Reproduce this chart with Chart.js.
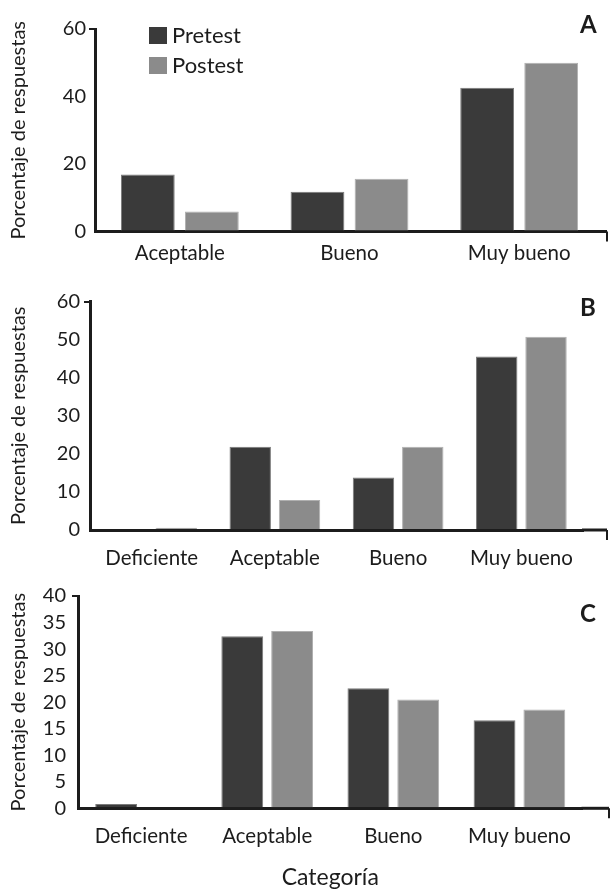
<!DOCTYPE html>
<html>
<head>
<meta charset="utf-8">
<script src="https://cdn.jsdelivr.net/npm/chart.js@4"></script>
<style>
  body{margin:0;background:#fff;}
  #wrap{position:relative;width:610px;height:889px;}
  canvas{position:absolute;left:0;}
</style>
</head>
<body>
<div id="wrap">
  <canvas id="panelA" width="610" height="285" style="top:0px"></canvas>
  <canvas id="panelB" width="610" height="290" style="top:285px"></canvas>
  <canvas id="panelC" width="610" height="314" style="top:575px"></canvas>
</div>
<script>
// data
const categoriesA = ['Aceptable', 'Bueno', 'Muy bueno'];
const pretestA = [16.9, 11.8, 42.6];
const postestA = [5.9, 15.6, 50.0];

const categoriesBC = ['Deficiente', 'Aceptable', 'Bueno', 'Muy bueno'];
const pretestB = [0, 21.9, 13.8, 45.6];
const postestB = [0.6, 7.9, 21.9, 50.8];

const pretestC = [0.8, 32.4, 22.6, 16.6];
const postestC = [0, 33.4, 20.5, 18.6];

const seriesNames = ['Pretest', 'Postest'];
const yTicksA = {max: 60, step: 20};
const yTicksB = {max: 60, step: 10};
const yTicksC = {max: 40, step: 5};

const darkGray = '#3a3a3a';
const lightGray = '#8b8b8b';
const ink = '#1c1c1c';
const fontName = 'Lato';

Chart.defaults.font.family = fontName;
Chart.defaults.color = ink;

// legend, panel letter and the x axis line that runs past the last bar
const extras = {
  id: 'extras',
  afterDraw(chart, args, opts) {
    const ctx = chart.ctx;
    const area = chart.chartArea;
    ctx.save();
    ctx.strokeStyle = ink;
    ctx.lineWidth = 3;
    ctx.beginPath();
    ctx.moveTo(area.right - 1, area.bottom);
    ctx.lineTo(opts.axisEnd, area.bottom);
    ctx.stroke();
    ctx.lineWidth = 2;
    ctx.beginPath();
    ctx.moveTo(opts.axisEnd, area.bottom);
    ctx.lineTo(opts.axisEnd, area.bottom + 10);
    ctx.stroke();

    ctx.fillStyle = ink;
    ctx.font = 'bold 24px ' + fontName;
    ctx.textBaseline = 'middle';
    ctx.textAlign = 'left';
    ctx.fillText(opts.letter, 580, opts.letterY);

    if (opts.legend) {
      chart.data.datasets.forEach((ds, i) => {
        const y = 27 + i * 30;
        ctx.fillStyle = ds.backgroundColor;
        ctx.fillRect(149, y, 18, 17);
        ctx.fillStyle = ink;
        ctx.font = '22px ' + fontName;
        ctx.fillText(ds.label, 172, y + 9);
      });
    }
    ctx.restore();
  }
};

function makePanel(id, labels, pre, post, yTicks, box, more) {
  const canvas = document.getElementById(id);
  return new Chart(canvas.getContext('2d'), {
    type: 'bar',
    data: {
      labels: labels,
      datasets: [
        {label: seriesNames[0], data: pre, backgroundColor: darkGray, borderColor: '#7a7a7a', borderWidth: 1},
        {label: seriesNames[1], data: post, backgroundColor: lightGray, borderColor: '#b0b0b0', borderWidth: 1}
      ]
    },
    plugins: [extras],
    options: {
      responsive: false,
      animation: false,
      categoryPercentage: box.cat,
      barPercentage: 0.84,
      layout: {padding: {top: box.top, right: 610 - box.right, left: 0, bottom: 0}},
      plugins: {
        legend: {display: false},
        tooltip: {enabled: false},
        extras: more
      },
      scales: {
        x: {
          afterFit(scale) { scale.height = canvas.height - box.bottom; },
          grid: {display: false, drawTicks: false},
          border: {display: true, color: ink, width: 3},
          ticks: {font: {size: 20.5}, color: ink, padding: box.xPad},
          title: box.xTitle ? {display: true, text: box.xTitle, font: {size: 23, lineHeight: 1}, color: ink, padding: {top: 0, bottom: 0}} : {display: false}
        },
        y: {
          min: 0,
          max: yTicks.max,
          afterFit(scale) { scale.width = box.left; },
          grid: {
            drawOnChartArea: false,
            drawTicks: true,
            tickLength: 6,
            lineWidth: 2,
            color: (c) => c.tick && c.tick.value === yTicks.max ? ink : 'rgba(0,0,0,0)'
          },
          border: {display: true, color: ink, width: 3},
          ticks: {stepSize: yTicks.step, autoSkip: false, font: {size: 20}, color: ink, padding: box.yPad},
          title: {display: true, text: 'Porcentaje de respuestas', font: {size: 20}, color: ink, padding: {top: 7, bottom: 0}}
        }
      }
    }
  });
}

makePanel('panelA', categoriesA, pretestA, postestA, yTicksA,
  {top: 29, bottom: 231.5, left: 95, right: 604, cat: 0.755, xPad: 10, yPad: 3},
  {letter: 'A', letterY: 25, axisEnd: 607, legend: true});

makePanel('panelB', categoriesBC, pretestB, postestB, yTicksB,
  {top: 16.7, bottom: 245, left: 90, right: 583, cat: 0.8, xPad: 16, yPad: 4},
  {letter: 'B', letterY: 23.5, axisEnd: 607, legend: false});

makePanel('panelC', categoriesBC, pretestC, postestC, yTicksC,
  {top: 21, bottom: 233.3, left: 78, right: 582.5, cat: 0.79, xPad: 16, yPad: 6, xTitle: 'Categoría'},
  {letter: 'C', letterY: 39, axisEnd: 609, legend: false});
</script>
</body>
</html>
